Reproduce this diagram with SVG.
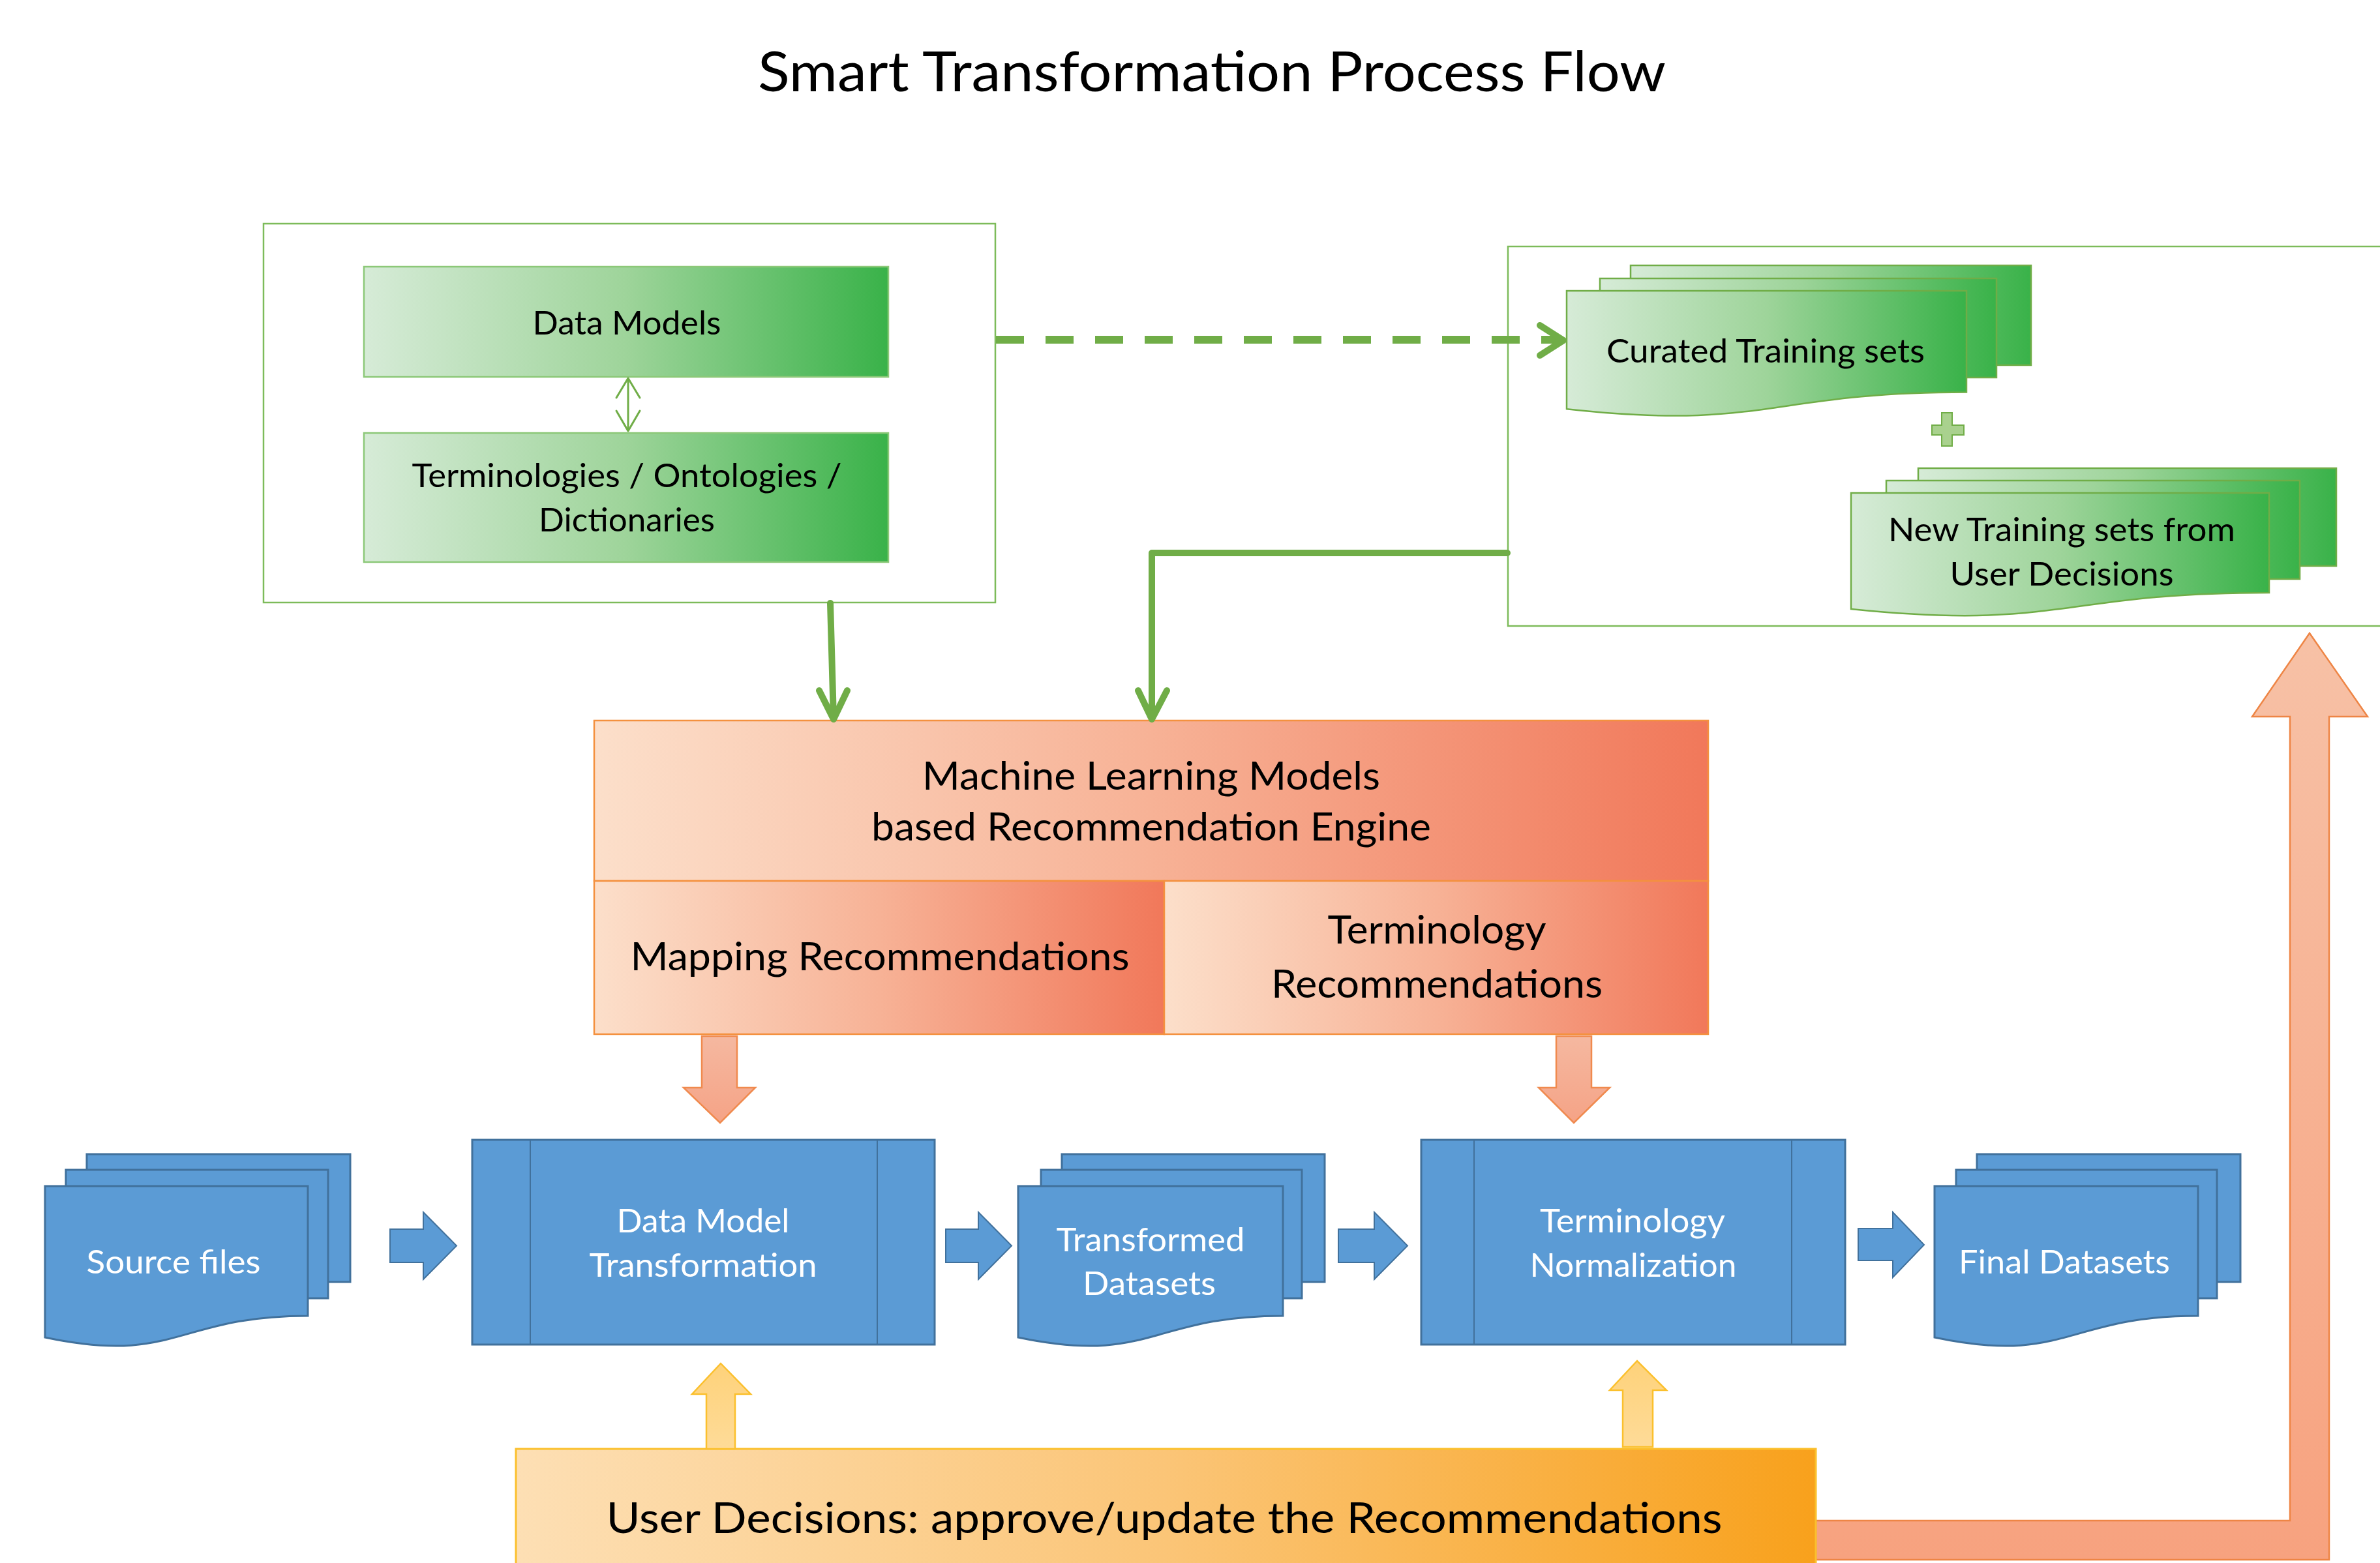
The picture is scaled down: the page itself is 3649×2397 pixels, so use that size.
<svg xmlns="http://www.w3.org/2000/svg" width="3649" height="2397" viewBox="0 0 3649 2397">
  <defs>
    <linearGradient id="gGreen" x1="0" y1="0" x2="1" y2="0">
      <stop offset="0" stop-color="#D6EBD7"/>
      <stop offset="0.5" stop-color="#9ED49A"/>
      <stop offset="1" stop-color="#39B249"/>
    </linearGradient>
    <linearGradient id="gPeach" x1="0" y1="0" x2="1" y2="0">
      <stop offset="0" stop-color="#FCDFCA"/>
      <stop offset="0.5" stop-color="#F7B296"/>
      <stop offset="1" stop-color="#F1785A"/>
    </linearGradient>
    <linearGradient id="gAmber" x1="0" y1="0" x2="1" y2="0">
      <stop offset="0" stop-color="#FDDFB4"/>
      <stop offset="0.5" stop-color="#FBC577"/>
      <stop offset="1" stop-color="#F8A11C"/>
    </linearGradient>
    <linearGradient id="gFeedback" gradientUnits="userSpaceOnUse" x1="0" y1="971" x2="0" y2="2392">
      <stop offset="0" stop-color="#F7C1A6"/>
      <stop offset="1" stop-color="#F7A27F"/>
    </linearGradient>
    <linearGradient id="gDown" x1="0" y1="0" x2="0" y2="1">
      <stop offset="0" stop-color="#F5B8A0"/>
      <stop offset="1" stop-color="#F5A386"/>
    </linearGradient>
    <linearGradient id="gUp" x1="0" y1="0" x2="0" y2="1">
      <stop offset="0" stop-color="#FED27A"/>
      <stop offset="1" stop-color="#FEDB98"/>
    </linearGradient>
  </defs>
  <style>
    .frame { fill: #FFFFFF; stroke: #7DBB5A; stroke-width: 2.5; }
    .gbox { fill: url(#gGreen); stroke: #8CC878; stroke-width: 2.5; }
    .gdoc { fill: url(#gGreen); stroke: #70AD47; stroke-width: 2.5; }
    .pbox { fill: url(#gPeach); stroke: #F4913F; stroke-width: 2.5; }
    .blue { fill: #5B9BD5; stroke: #41719C; stroke-width: 3; }
    .bline { fill: none; stroke: #41719C; stroke-width: 2; }
    .barrow { fill: #5B9BD5; stroke: #41719C; stroke-width: 2; }
    .darrow { fill: url(#gDown); stroke: #F08A4E; stroke-width: 2.5; }
    .uarrow { fill: url(#gUp); stroke: #FBC02D; stroke-width: 2.5; }
    .ubox { fill: url(#gAmber); stroke: #FBC02D; stroke-width: 3; }
    .gline { fill: none; stroke: #70AD47; stroke-width: 10; stroke-linecap: round; stroke-linejoin: round; }
    .gthin { fill: none; stroke: #70AD47; stroke-width: 3; stroke-linecap: round; stroke-linejoin: round; }
    .t { font-family: Lato, "Open Sans", "Liberation Sans", sans-serif; text-anchor: middle; fill: #000000; }
    .tw { font-family: Lato, "Open Sans", "Liberation Sans", sans-serif; text-anchor: middle; fill: #FFFFFF; }
  </style>

  <rect width="3649" height="2397" fill="#FFFFFF"/>

  <!-- Title -->
  <text class="t" x="1858" y="140" font-size="86" fill="#231F20" textLength="1392" lengthAdjust="spacingAndGlyphs">Smart Transformation Process Flow</text>

  <!-- Reference sources panel -->
  <g id="sources">
    <rect class="frame" x="404" y="343" width="1122" height="581"/>
  </g>
  <g id="data-models">
    <rect class="gbox" x="558" y="409" width="804" height="169"/>
    <text class="t" x="961" y="513" font-size="51" textLength="289" lengthAdjust="spacingAndGlyphs">Data Models</text>
  </g>
  <g id="terminologies">
    <rect class="gbox" x="558" y="664" width="804" height="198"/>
    <text class="t" x="961" y="747" font-size="51" textLength="659" lengthAdjust="spacingAndGlyphs">Terminologies / Ontologies /</text>
    <text class="t" x="961" y="815" font-size="51" textLength="270" lengthAdjust="spacingAndGlyphs">Dictionaries</text>
  </g>

  <!-- Training sets panel -->
  <g id="training">
    <rect class="frame" x="2312" y="378" width="1360" height="582"/>
  </g>
  <g id="curated-training">
    <rect class="gdoc" x="2500" y="407" width="614" height="153"/>
    <rect class="gdoc" x="2453" y="427" width="608" height="152"/>
    <path class="gdoc" d="M2402,446 H3015 V601.6 C2708.5,601.6 2708.5,660.9 2402,627.2 Z"/>
    <text class="t" x="2707" y="556" font-size="51" textLength="488" lengthAdjust="spacingAndGlyphs">Curated Training sets</text>
  </g>
  <g id="plus">
    <path d="M2977,633 H2993 V652 H3011 V667 H2993 V684 H2977 V667 H2962 V652 H2977 Z" fill="#A9D18E" stroke="#70AD47" stroke-width="2"/>
  </g>
  <g id="new-training">
    <rect class="gdoc" x="2941" y="718" width="641" height="150"/>
    <rect class="gdoc" x="2892" y="737" width="634" height="151"/>
    <path class="gdoc" d="M2838,756 H3479 V908.9 C3158.5,908.9 3158.5,967.1 2838,934 Z"/>
    <text class="t" x="3161" y="830" font-size="51" textLength="532" lengthAdjust="spacingAndGlyphs">New Training sets from</text>
    <text class="t" x="3161" y="898" font-size="51" textLength="343" lengthAdjust="spacingAndGlyphs">User Decisions</text>
  </g>

  <!-- Recommendation engine -->
  <g id="engine">
    <rect class="pbox" x="911" y="1105" width="1708" height="246"/>
    <text class="t" x="1765" y="1211" font-size="60" textLength="702" lengthAdjust="spacingAndGlyphs">Machine Learning Models</text>
    <text class="t" x="1765" y="1289" font-size="60" textLength="858" lengthAdjust="spacingAndGlyphs">based Recommendation Engine</text>
  </g>
  <g id="mapping-rec">
    <rect class="pbox" x="911" y="1351" width="874" height="235"/>
    <text class="t" x="1349" y="1488" font-size="60" textLength="765" lengthAdjust="spacingAndGlyphs">Mapping Recommendations</text>
  </g>
  <g id="terminology-rec">
    <rect class="pbox" x="1785" y="1351" width="834" height="235"/>
    <text class="t" x="2203" y="1447" font-size="60" textLength="335" lengthAdjust="spacingAndGlyphs">Terminology</text>
    <text class="t" x="2203" y="1530" font-size="60" textLength="508" lengthAdjust="spacingAndGlyphs">Recommendations</text>
  </g>

  <!-- Pipeline row -->
  <g id="source-files">
    <rect class="blue" x="133" y="1770" width="404" height="196"/>
    <rect class="blue" x="101" y="1794" width="402" height="197"/>
    <path class="blue" d="M69,1819 H472 V2018 C270.5,2018 270.5,2093.7 69,2051 Z"/>
    <text class="tw" x="266" y="1953" font-size="51" textLength="267" lengthAdjust="spacingAndGlyphs">Source files</text>
  </g>
  <g id="data-model-transformation">
    <rect class="blue" x="724" y="1748" width="709" height="314"/>
    <line class="bline" x1="813" y1="1748" x2="813" y2="2062"/>
    <line class="bline" x1="1345" y1="1748" x2="1345" y2="2062"/>
    <text class="tw" x="1078" y="1890" font-size="51" textLength="265" lengthAdjust="spacingAndGlyphs">Data Model</text>
    <text class="tw" x="1078" y="1958" font-size="51" textLength="349" lengthAdjust="spacingAndGlyphs">Transformation</text>
  </g>
  <g id="transformed-datasets">
    <rect class="blue" x="1628" y="1770" width="403" height="196"/>
    <rect class="blue" x="1596" y="1794" width="400" height="197"/>
    <path class="blue" d="M1561,1819 H1967 V2018 C1764,2018 1764,2093.7 1561,2051 Z"/>
    <text class="tw" x="1764" y="1919" font-size="51" textLength="289" lengthAdjust="spacingAndGlyphs">Transformed</text>
    <text class="tw" x="1762" y="1986" font-size="51" textLength="204" lengthAdjust="spacingAndGlyphs">Datasets</text>
  </g>
  <g id="terminology-normalization">
    <rect class="blue" x="2179" y="1748" width="650" height="314"/>
    <line class="bline" x1="2260" y1="1748" x2="2260" y2="2062"/>
    <line class="bline" x1="2747" y1="1748" x2="2747" y2="2062"/>
    <text class="tw" x="2503" y="1890" font-size="51" textLength="284" lengthAdjust="spacingAndGlyphs">Terminology</text>
    <text class="tw" x="2504" y="1958" font-size="51" textLength="317" lengthAdjust="spacingAndGlyphs">Normalization</text>
  </g>
  <g id="final-datasets">
    <rect class="blue" x="3031" y="1770" width="404" height="196"/>
    <rect class="blue" x="2999" y="1794" width="400" height="197"/>
    <path class="blue" d="M2966,1819 H3370 V2018 C3168,2018 3168,2093.7 2966,2051 Z"/>
    <text class="tw" x="3165" y="1953" font-size="51" textLength="324" lengthAdjust="spacingAndGlyphs">Final Datasets</text>
  </g>

  <!-- User decisions -->
  <g id="feedback-arrow">
    <path d="M2784,2332 H3511 V1099 H3453 L3541,971 L3630,1099 H3571 V2392 H2784 Z" fill="url(#gFeedback)" stroke="#EE8545" stroke-width="2.5"/>
  </g>
  <g id="user-decisions">
    <rect class="ubox" x="791" y="2222" width="1993" height="190"/>
    <text class="t" x="1785" y="2351" font-size="66" textLength="1711" lengthAdjust="spacingAndGlyphs">User Decisions: approve/update the Recommendations</text>
  </g>

  <!-- Connectors -->
  <g id="connectors">
    <!-- pipeline flow arrows -->
    <path class="barrow" d="M598,1885 H649 V1859 L700,1910.5 L649,1962 V1936 H598 Z"/>
    <path class="barrow" d="M1450,1885 H1500 V1859 L1551,1910.5 L1500,1962 V1936 H1450 Z"/>
    <path class="barrow" d="M2052,1885 H2107 V1859 L2158,1910.5 L2107,1962 V1936 H2052 Z"/>
    <path class="barrow" d="M2849,1884 H2902 V1859 L2950,1909 L2902,1959 V1933 H2849 Z"/>

    <!-- recommendations feeding the processing steps -->
    <path class="darrow" d="M1076,1589 H1130 V1668 H1158 L1104,1722 L1048,1668 H1076 Z"/>
    <path class="darrow" d="M2386,1589 H2440 V1668 H2468 L2413,1722 L2359,1668 H2386 Z"/>

    <!-- user decisions feeding the processing steps -->
    <path class="uarrow" d="M1083,2222 V2138 H1061 L1105,2091 L1151,2138 H1127 V2222 Z"/>
    <path class="uarrow" d="M2488,2219 V2132 H2468 L2510,2087 L2555,2132 H2534 V2219 Z"/>

    <!-- data models <-> terminologies -->
    <line class="gthin" x1="963" y1="581" x2="963" y2="660"/>
    <polyline class="gthin" points="945,610 963,580 981,610"/>
    <polyline class="gthin" points="945,630 963,661 981,630"/>

    <!-- sources to training sets -->
    <line x1="1527" y1="521" x2="2390" y2="521" stroke="#70AD47" stroke-width="12" stroke-dasharray="43,33"/>
    <polyline class="gline" points="2361,499 2397,522 2361,545"/>

    <!-- sources to engine -->
    <polyline class="gline" points="1273,925 1278,1102"/>
    <polyline class="gline" points="1256,1059 1278,1103 1299,1059"/>

    <!-- training sets to engine -->
    <polyline class="gline" points="2311,848 1766,848 1766,1102"/>
    <polyline class="gline" points="1745,1059 1766,1103 1789,1059"/>
  </g>
</svg>
